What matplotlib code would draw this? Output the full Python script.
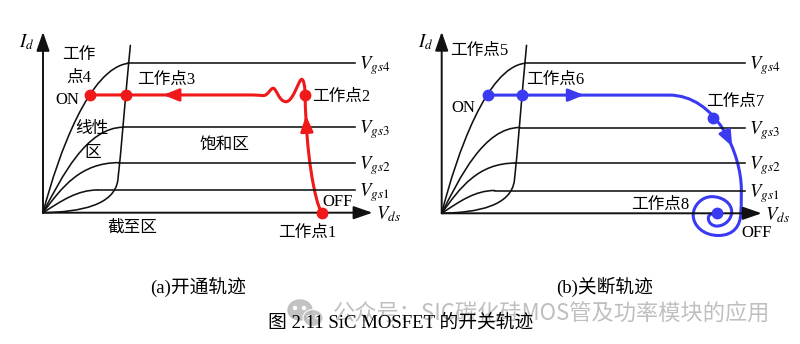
import matplotlib
matplotlib.use("Agg")

import matplotlib.pyplot as plt
from matplotlib.path import Path
from matplotlib.patches import PathPatch, Ellipse

plt.rcParams["font.family"] = ["Liberation Serif", "Noto Sans CJK SC"]
plt.rcParams["mathtext.fontset"] = "stix"

RED = "#f01818"
BLUE = "#3a3af2"
INK = "#111111"

# -----------------------------
# output characteristic, shared by both panels
# -----------------------------
VGS_NAMES = ["gs1", "gs2", "gs3", "gs4"]
VGS_LEVELS = [15.2, 33.5, 57.2, 100.0]
SAT_START = [17.5, 24.3, 25.8, 27.4]
VDS_END = 100.0
ON_CURRENT = 78.8

# ohmic region knees, cubic bezier control points (origin -> saturation start)
OHMIC_CURVES = [
    [(0, 0), (6, 8), (11, 15.2), (17.5, 15.2)],
    [(0, 0), (6, 17), (12, 33.5), (24.3, 33.5)],
    [(0, 0), (6, 24), (14, 57.2), (25.8, 57.2)],
    [(0, 0), (5, 40), (15, 97), (27.4, 100)],
]

# pinch-off boundary, two chained cubic segments
BOUNDARY = [(0, 0), (12, 0.5), (23, 5), (24, 22), (25, 40), (26.5, 80), (28, 112)]

# turn-on trajectory: OFF -> up -> ringing -> left to ON
TURN_ON = [
    (89.3, 0), (87.0, 8), (84.3, 40), (84.0, ON_CURRENT),
    (84.0, 84), (83.6, 89.3), (82.9, 89.3),
    (82.0, 89.3), (80.2, 74.3), (77.9, 74.3),
    (75.6, 74.3), (74.8, 83.3), (73.8, 83.3),
    (72.8, 83.3), (72.2, 78.4), (70.6, 78.4),
    (69.5, 78.4), (68.8, ON_CURRENT), (67.5, ON_CURRENT),
    (50.0, ON_CURRENT), (30.0, ON_CURRENT), (15.2, ON_CURRENT),
]
TURN_ON_DOTS = [(15.2, ON_CURRENT), (26.6, ON_CURRENT), (84.0, ON_CURRENT), (89.3, 0)]
TURN_ON_ARROWS = [((43.0, ON_CURRENT), (38.5, ON_CURRENT)), ((84.5, 57.0), (84.3, 65.0))]

# turn-off trajectory: ON -> right -> bend down -> spiral into OFF
TURN_OFF = [
    (15.2, ON_CURRENT), (35, ON_CURRENT), (55, ON_CURRENT), (75, ON_CURRENT),
    (90.5, ON_CURRENT), (98.9, 40), (98.9, 15.5),
    (98.9, 8), (98.8, 3), (98.7, 0),
    (98.6, -8), (96.5, -14.8), (91.3, -14.8),
    (86.5, -14.8), (83.0, -8.5), (83.0, -1.1),
    (83.0, 5.0), (85.8, 11.1), (89.1, 11.1),
    (92.8, 11.1), (95.7, 6.6), (95.7, 1.1),
    (95.7, -4.0), (93.5, -8.5), (90.8, -8.5),
    (89.2, -8.5), (88.0, -6.2), (88.0, -3.3),
    (88.0, -1.8), (88.5, -0.6), (89.3, -0.3),
]
TURN_OFF_DOTS = [(15.2, ON_CURRENT), (26.6, ON_CURRENT), (89.6, 63.8), (90.7, 0)]
TURN_OFF_ARROWS = [((43.0, ON_CURRENT), (47.0, ON_CURRENT)), ((94.4, 50.5), (95.9, 44.5))]

LABEL_FS = 12
MATH_FS = 13.5


def bezier(points):
    codes = [Path.MOVETO] + [Path.CURVE4] * (len(points) - 1)
    return Path(points, codes)


def draw_curve(ax, points, color, lw):
    ax.add_patch(PathPatch(bezier(points), fill=False, edgecolor=color, lw=lw,
                           capstyle="round", joinstyle="round"))


def draw_arrow(ax, tail, tip, color, lw, head="-|>,head_length=0.95,head_width=0.38", scale=10):
    ax.annotate("", xy=tip, xytext=tail,
                arrowprops=dict(arrowstyle=head, mutation_scale=scale, lw=lw,
                                color=color, shrinkA=0, shrinkB=0))


def draw_characteristic(ax):
    # axes with arrow heads
    draw_arrow(ax, (0, 0), (0, 121), INK, 1.4, "-|>,head_length=1.15,head_width=0.4")
    draw_arrow(ax, (0, 0), (105.6, 0), INK, 1.4, "-|>,head_length=1.15,head_width=0.4")

    for pts in OHMIC_CURVES:
        draw_curve(ax, pts, INK, 1.15)
    draw_curve(ax, BOUNDARY, INK, 1.15)

    for name, level, x0 in zip(VGS_NAMES, VGS_LEVELS, SAT_START):
        ax.plot([x0, VDS_END], [level, level], color=INK, lw=1.15)
        ax.text(VDS_END + 1.3, level - 4.3, r"$V_{\mathit{%s}}$" % name,
                fontsize=MATH_FS, ha="left", va="baseline")

    ax.text(-7.8, 110.9, r"$I_{d}$", fontsize=MATH_FS, ha="left", va="baseline")
    ax.text(106.6, -4.6, r"$V_{\mathit{ds}}$", fontsize=MATH_FS, ha="left", va="baseline")


def setup_axes(fig, rect, xlim, ylim):
    ax = fig.add_axes(rect)
    ax.set_xlim(*xlim)
    ax.set_ylim(*ylim)
    ax.axis("off")
    return ax


fig = plt.figure(figsize=(8.0, 3.44), dpi=100, facecolor="white")

# left panel: turn-on
ax1 = setup_axes(fig, [0.0, 0.2442, 0.5, 0.7558], (-13.78, 114.42), (-31.66, 142.37))
draw_characteristic(ax1)
draw_curve(ax1, TURN_ON, RED, 2.2)
for tail, tip in TURN_ON_ARROWS:
    draw_arrow(ax1, tail, tip, RED, 2.0)
ax1.plot(*zip(*TURN_ON_DOTS), "o", color=RED, ms=7.5, ls="none", zorder=5)

ax1.text(11.5, 105.6, "工作", fontsize=LABEL_FS, ha="center", va="center")
ax1.text(11.5, 90.2, "点4", fontsize=LABEL_FS, ha="center", va="center")
ax1.text(7.7, 75.4, "ON", fontsize=LABEL_FS, ha="center", va="center")
ax1.text(30.1, 88.8, "工作点3", fontsize=LABEL_FS, ha="left", va="center")
ax1.text(86.2, 77.4, "工作点2", fontsize=LABEL_FS, ha="left", va="center")
ax1.text(15.7, 56.0, "线性", fontsize=LABEL_FS, ha="center", va="center")
ax1.text(16.0, 40.0, "区", fontsize=LABEL_FS, ha="center", va="center")
ax1.text(58.3, 45.3, "饱和区", fontsize=LABEL_FS, ha="center", va="center")
ax1.text(89.4, 7.2, "OFF", fontsize=LABEL_FS, ha="left", va="center")
ax1.text(28.5, -10.2, "截至区", fontsize=LABEL_FS, ha="center", va="center")
ax1.text(84.6, -13.6, "工作点1", fontsize=LABEL_FS, ha="center", va="center")

# right panel: turn-off
ax2 = setup_axes(fig, [0.5, 0.2442, 0.5, 0.7558], (-13.76, 118.25), (-31.13, 142.2))
draw_characteristic(ax2)
draw_curve(ax2, TURN_OFF, BLUE, 2.2)
for tail, tip in TURN_OFF_ARROWS:
    draw_arrow(ax2, tail, tip, BLUE, 2.0)
ax2.plot(*zip(*TURN_OFF_DOTS), "o", color=BLUE, ms=7.5, ls="none", zorder=5)

ax2.text(2.7, 108.5, "工作点5", fontsize=LABEL_FS, ha="left", va="center")
ax2.text(7.0, 70.2, "ON", fontsize=LABEL_FS, ha="center", va="center")
ax2.text(27.8, 88.9, "工作点6", fontsize=LABEL_FS, ha="left", va="center")
ax2.text(87.2, 74.2, "工作点7", fontsize=LABEL_FS, ha="left", va="center")
ax2.text(81.6, 5.5, "工作点8", fontsize=LABEL_FS, ha="right", va="center")
ax2.text(98.8, -13.1, "OFF", fontsize=LABEL_FS, ha="left", va="center")

# captions
fig.text(0.2475, 0.1657, "(a)开通轨迹", fontsize=13.5, ha="center", va="center")
fig.text(0.756, 0.1657, "(b)关断轨迹", fontsize=13.5, ha="center", va="center")
fig.text(0.501, 0.061, "图 2.11 SiC MOSFET 的开关轨迹", fontsize=13.5, ha="center", va="center")

# watermark overlay, in pixel units
ov = setup_axes(fig, [0, 0, 1, 1], (0, 800), (344, 0))
ov.add_patch(Ellipse((300, 310), 24, 20, color="#b9b9b9", alpha=0.85))
ov.add_patch(Ellipse((313, 318), 20, 17, color="#b9b9b9", alpha=0.85, ec="white", lw=1))
for ex, ey in [(295, 308), (304, 308), (309, 317), (317, 317)]:
    ov.add_patch(Ellipse((ex, ey), 3, 3, color="white"))
ov.text(552, 313, "公众号：SIC碳化硅MOS管及功率模块的应用", fontsize=16,
        family="Noto Sans CJK SC", color="#b4b4b4", alpha=0.85, ha="center", va="center")

fig.savefig("out.png", dpi=100, facecolor="white")
